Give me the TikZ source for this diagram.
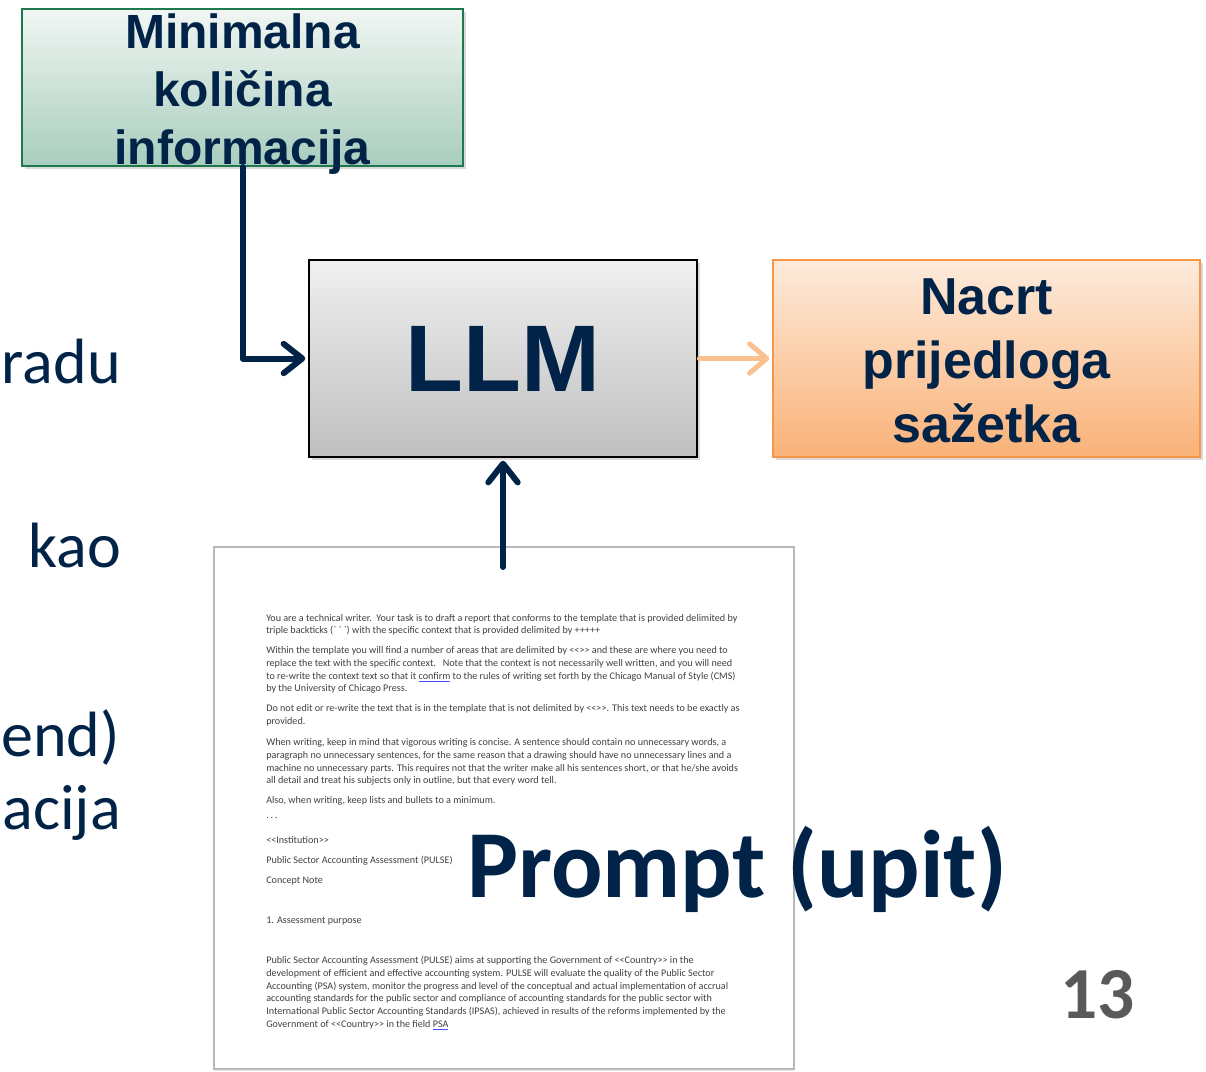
\documentclass[tikz,border=0pt]{standalone}
\usepackage{fontspec}
\setmainfont{Liberation Sans}
\newfontfamily\calib{Carlito}
\usetikzlibrary{arrows.meta,shadows}
\definecolor{navy}{HTML}{002347}
\definecolor{docgray}{HTML}{404040}
\definecolor{numgray}{HTML}{595959}
\definecolor{gtop}{HTML}{F1F6F3}
\definecolor{gbot}{HTML}{A8CDBE}
\definecolor{gborder}{HTML}{1E7A4C}
\definecolor{otop}{HTML}{FDEBDC}
\definecolor{obot}{HTML}{FAB278}
\definecolor{oborder}{HTML}{F79646}
\definecolor{oarrow}{HTML}{FAC08F}
\tikzset{
  boxshadow/.style={drop shadow={opacity=0.3,shadow xshift=2pt,shadow yshift=-2.5pt}},
  greenbox/.style={draw=gborder,line width=1.5pt,top color=gtop,bottom color=gbot,
    minimum width=330.75pt,minimum height=117.75pt,boxshadow,inner sep=0},
  llmbox/.style={draw=black,line width=1.5pt,top color=gray!12,bottom color=gray!50,
    minimum width=291pt,minimum height=147.75pt,boxshadow,inner sep=0,
    text=navy,font=\fontsize{71}{71}\selectfont\bfseries},
  orangebox/.style={draw=oborder,line width=1.5pt,top color=otop,bottom color=obot,
    minimum width=320.25pt,minimum height=147.75pt,boxshadow,inner sep=0},
  boxtext/.style={text=navy,align=center,inner sep=0},
  docbox/.style={draw=gray!55,line width=1.2pt,fill=white,minimum width=435pt,
    minimum height=391.5pt,inner sep=0,
    drop shadow={opacity=0.2,shadow xshift=0pt,shadow yshift=-1.5pt}},
  docline/.style={anchor=base west,inner sep=0,text=docgray,font=\calib\fontsize{7.6}{8}\selectfont},
  navyarrow/.style={draw=navy,line width=4.5pt,line cap=round,line join=round,
    -{Straight Barb[length=14pt,width=22pt,round]}},
  orangearrow/.style={draw=oarrow,line width=3.75pt,line cap=round,line join=round,
    -{Straight Barb[length=13pt,width=22pt,round]}},
  sidetext/.style={anchor=base east,inner sep=0,text=navy,font=\calib\fontsize{48}{48}\selectfont}
}
\begin{document}
\begin{tikzpicture}[x=0.75pt,y=-0.75pt]
\useasboundingbox (0,0) rectangle (1206,1071);
\begin{scope}
\clip (0,0) rectangle (1206,1071);
% left fragments
\node[sidetext] (s1) at (121,383) {radu};
\node[sidetext] (s2) at (121,567) {kao};
\node[sidetext] (s3) at (120,756) {end)};
\node[sidetext] (s4) at (121,829) {acija};

% document
\node[docbox] (doc) at (504,808) {};
\foreach \yy/\q [count=\i] in {
 621/{You are a technical writer.\ \ Your task is to draft a report that conforms to the template that is provided delimited by},
 633/{triple backticks (\textasciigrave\ \textasciigrave\ \textasciigrave) with the specific context that is provided delimited by +++++},
 653/{Within the template you will find a number of areas that are delimited by <<>> and these are where you need to},
 666/{replace the text with the specific context.\ \ \ Note that the context is not necessarily well written, and you will need},
 679/{to re-write the context text so that it {\color{blue!70}\underline{\textcolor{docgray}{confirm}}} to the rules of writing set forth by the Chicago Manual of Style (CMS)},
 691/{by the University of Chicago Press.},
 711/{Do not edit or re-write the text that is in the template that is not delimited by <<>>. This text needs to be exactly as},
 724/{provided.},
 745/{When writing, keep in mind that vigorous writing is concise. A sentence should contain no unnecessary words, a},
 758/{paragraph no unnecessary sentences, for the same reason that a drawing should have no unnecessary lines and a},
 771/{machine no unnecessary parts. This requires not that the writer make all his sentences short, or that he/she avoids},
 783/{all detail and treat his subjects only in outline, but that every word tell.},
 803/{Also, when writing, keep lists and bullets to a minimum.},
 818/{.\,.\,.},
 843/{<<Institution>>},
 863/{Public Sector Accounting Assessment (PULSE)},
 883/{Concept Note},
 923/{1. Assessment purpose},
 963/{Public Sector Accounting Assessment (PULSE) aims at supporting the Government of <<Country>> in the},
 976/{development of efficient and effective accounting system. PULSE will evaluate the quality of the Public Sector},
 989/{Accounting (PSA) system, monitor the progress and level of the conceptual and actual implementation of accrual},
 1001/{accounting standards for the public sector and compliance of accounting standards for the public sector with},
 1014/{International Public Sector Accounting Standards (IPSAS), achieved in results of the reforms implemented by the},
 1027/{Government of <<Country>> in the field {\color{blue!70}\underline{\textcolor{docgray}{PSA}}}}
}{\node[docline] (dl\i) at (266,\yy) {\q};}

% boxes
\node[greenbox] (mi) at (242.5,87.5) {};
\node[boxtext,font=\fontsize{36}{43.5}\selectfont\bfseries] (mit) at (242.5,94) {Minimalna\\količina\\informacija};
\node[llmbox] (llm) at (503,358.5) {LLM};
\node[orangebox] (na) at (986.5,358.5) {};
\node[boxtext,font=\fontsize{39}{48}\selectfont\bfseries] (nat) at (986.5,361) {Nacrt\\prijedloga\\sažetka};

% connectors
\coordinate (up) at (503,567);
\draw[navyarrow] (mi.south) |- ([xshift=-2pt]llm.west);
\draw[orangearrow] ([xshift=1pt]llm.east) -- ([xshift=-2pt]na.west);
\draw[navyarrow] (up) -- ([yshift=-2pt]llm.south);

% big labels
\node[anchor=base west,inner sep=0,text=navy,font=\calib\fontsize{72}{72}\selectfont\bfseries] (prompt) at (467,897) {Prompt (upit)};
\node[anchor=base east,inner sep=0,text=numgray,font=\calib\fontsize{55}{55}\selectfont\bfseries] (num) at (1135,1018) {13};
\end{scope}
\end{tikzpicture}
\end{document}
